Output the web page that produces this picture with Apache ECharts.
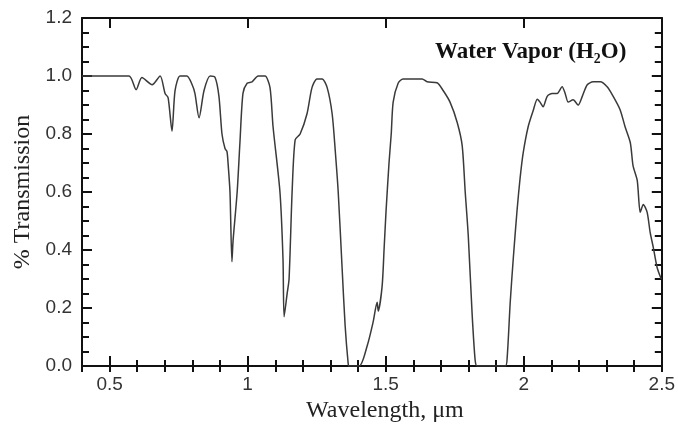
<!DOCTYPE html>
<html>
<head>
<meta charset="utf-8">
<script src="https://cdn.jsdelivr.net/npm/echarts@6/dist/echarts.min.js"></script>
<style>
html,body{margin:0;padding:0;background:#fff;}
#chart{width:678px;height:428px;}
</style>
</head>
<body>
<div id="chart"></div>
<script>
// Wavelength (µm)
const wavelength = [0.40, 0.57, 0.596, 0.617, 0.654, 0.683, 0.701, 0.712, 0.726, 0.737, 0.755, 0.78, 0.799, 0.809, 0.824, 0.842, 0.864, 0.882, 0.896, 0.907, 0.918, 0.925, 0.929, 0.936, 0.943, 0.947, 0.962, 0.972, 0.983, 0.998, 1.016, 1.038, 1.063, 1.081, 1.092, 1.117, 1.128, 1.132, 1.143, 1.150, 1.161, 1.172, 1.190, 1.215, 1.233, 1.251, 1.270, 1.288, 1.306, 1.317, 1.328, 1.342, 1.353, 1.364, 1.367, 1.404, 1.433, 1.454, 1.469, 1.473, 1.487, 1.494, 1.501, 1.512, 1.520, 1.527, 1.545, 1.563, 1.599, 1.632, 1.650, 1.686, 1.708, 1.733, 1.759, 1.777, 1.788, 1.799, 1.813, 1.824, 1.831, 1.933, 1.940, 1.951, 1.962, 1.976, 1.987, 1.998, 2.016, 2.034, 2.049, 2.059, 2.070, 2.085, 2.103, 2.121, 2.139, 2.150, 2.161, 2.179, 2.197, 2.212, 2.230, 2.251, 2.277, 2.302, 2.324, 2.349, 2.367, 2.386, 2.396, 2.411, 2.422, 2.433, 2.447, 2.458, 2.469, 2.483, 2.498];
// Transmission (fraction)
const transmission = [1.0, 1.0, 0.953, 0.995, 0.97, 1.0, 0.94, 0.925, 0.81, 0.95, 1.0, 1.0, 0.97, 0.94, 0.856, 0.95, 1.0, 0.995, 0.93, 0.80, 0.75, 0.74, 0.70, 0.60, 0.36, 0.43, 0.60, 0.77, 0.94, 0.975, 0.98, 1.0, 1.0, 0.96, 0.825, 0.60, 0.37, 0.17, 0.25, 0.30, 0.60, 0.78, 0.80, 0.87, 0.96, 0.99, 0.99, 0.96, 0.87, 0.746, 0.60, 0.34, 0.14, 0.01, 0, 0, 0.07, 0.15, 0.22, 0.19, 0.275, 0.40, 0.53, 0.70, 0.80, 0.91, 0.975, 0.99, 0.99, 0.99, 0.98, 0.977, 0.95, 0.91, 0.84, 0.76, 0.60, 0.45, 0.18, 0.02, 0, 0, 0.03, 0.22, 0.37, 0.54, 0.65, 0.735, 0.825, 0.88, 0.92, 0.91, 0.894, 0.93, 0.94, 0.94, 0.963, 0.94, 0.91, 0.918, 0.90, 0.93, 0.97, 0.98, 0.98, 0.963, 0.93, 0.884, 0.825, 0.77, 0.69, 0.64, 0.53, 0.557, 0.53, 0.46, 0.41, 0.34, 0.30];
// Tick labels
const xMajorTicks = [0.5, 1, 1.5, 2, 2.5];
const yTickLabels = ['0.0', '0.2', '0.4', '0.6', '0.8', '1.0', '1.2'];
const chartTitle = 'Water Vapor (H\u2082O)';
const xTitle = 'Wavelength, \u03bcm';
const yTitle = '% Transmission';

const data = wavelength.map((w, i) => [w, transmission[i]]);

const frameLine = {color: '#111', width: 2};
const tickFont = {fontFamily: 'Liberation Sans', fontSize: 19, color: '#333'};

const chart = echarts.init(document.getElementById('chart'), null, {renderer: 'canvas'});
chart.setOption({
  animation: false,
  backgroundColor: '#fff',
  title: {
    text: chartTitle,
    left: 430, top: 36,
    textStyle: {fontFamily: 'Liberation Serif', fontWeight: 'bold', fontSize: 23, color: '#111'}
  },
  grid: {left: 82, right: 14, top: 18, bottom: 61, containLabel: false},
  xAxis: [
    {
      type: 'value', min: 0.4, max: 2.5, position: 'bottom',
      axisLine: {show: true, onZero: false, lineStyle: frameLine},
      axisTick: {show: true, inside: true, length: 10, customValues: xMajorTicks, lineStyle: {color: '#111', width: 2}},
      axisLabel: {show: true, customValues: xMajorTicks, margin: 9, formatter: v => String(+(+v).toFixed(1)), ...tickFont},
      splitLine: {show: false},
      name: xTitle, nameLocation: 'middle', nameGap: 30,
      nameTextStyle: {fontFamily: 'Liberation Serif', fontSize: 24, color: '#222', padding: [0, 0, 0, 26]}
    },
    {
      type: 'value', min: 0.4, max: 2.5, interval: 0.1, position: 'bottom',
      axisLine: {show: false},
      axisTick: {show: true, inside: true, length: 6, lineStyle: {color: '#111', width: 2}},
      axisLabel: {show: false}, splitLine: {show: false}
    },
    {
      type: 'value', min: 0.4, max: 2.5, position: 'top',
      axisLine: {show: true, onZero: false, lineStyle: frameLine},
      axisTick: {show: true, inside: true, length: 10, customValues: xMajorTicks, lineStyle: {color: '#111', width: 2}},
      axisLabel: {show: false}, splitLine: {show: false}
    },
    {
      type: 'value', min: 0.4, max: 2.5, interval: 0.1, position: 'top',
      axisLine: {show: false},
      axisTick: {show: true, inside: true, length: 6, lineStyle: {color: '#111', width: 2}},
      axisLabel: {show: false}, splitLine: {show: false}
    }
  ],
  yAxis: [
    {
      type: 'value', min: 0, max: 1.2, interval: 0.2, position: 'left',
      axisLine: {show: true, onZero: false, lineStyle: frameLine},
      axisTick: {show: true, inside: true, length: 10, lineStyle: {color: '#111', width: 2}},
      minorTick: {show: true, splitNumber: 4, length: 7, lineStyle: {color: '#111', width: 2}},
      axisLabel: {show: true, margin: 10, formatter: (v) => yTickLabels[Math.round(v / 0.2)], ...tickFont},
      splitLine: {show: false},
      name: yTitle, nameLocation: 'middle', nameGap: 44, nameRotate: 90,
      nameTextStyle: {fontFamily: 'Liberation Serif', fontSize: 24, color: '#222'}
    },
    {
      type: 'value', min: 0, max: 1.2, interval: 0.2, position: 'right',
      axisLine: {show: true, onZero: false, lineStyle: frameLine},
      axisTick: {show: true, inside: true, length: 10, lineStyle: {color: '#111', width: 2}},
      minorTick: {show: true, splitNumber: 4, length: 7, lineStyle: {color: '#111', width: 2}},
      axisLabel: {show: false}, splitLine: {show: false}
    }
  ],
  series: [{
    type: 'line',
    xAxisIndex: 0, yAxisIndex: 0,
    data: data,
    showSymbol: false,
    smooth: 0.25,
    lineStyle: {color: '#3a3a3a', width: 1.5},
    clip: true
  }]
});
</script>
</body>
</html>
